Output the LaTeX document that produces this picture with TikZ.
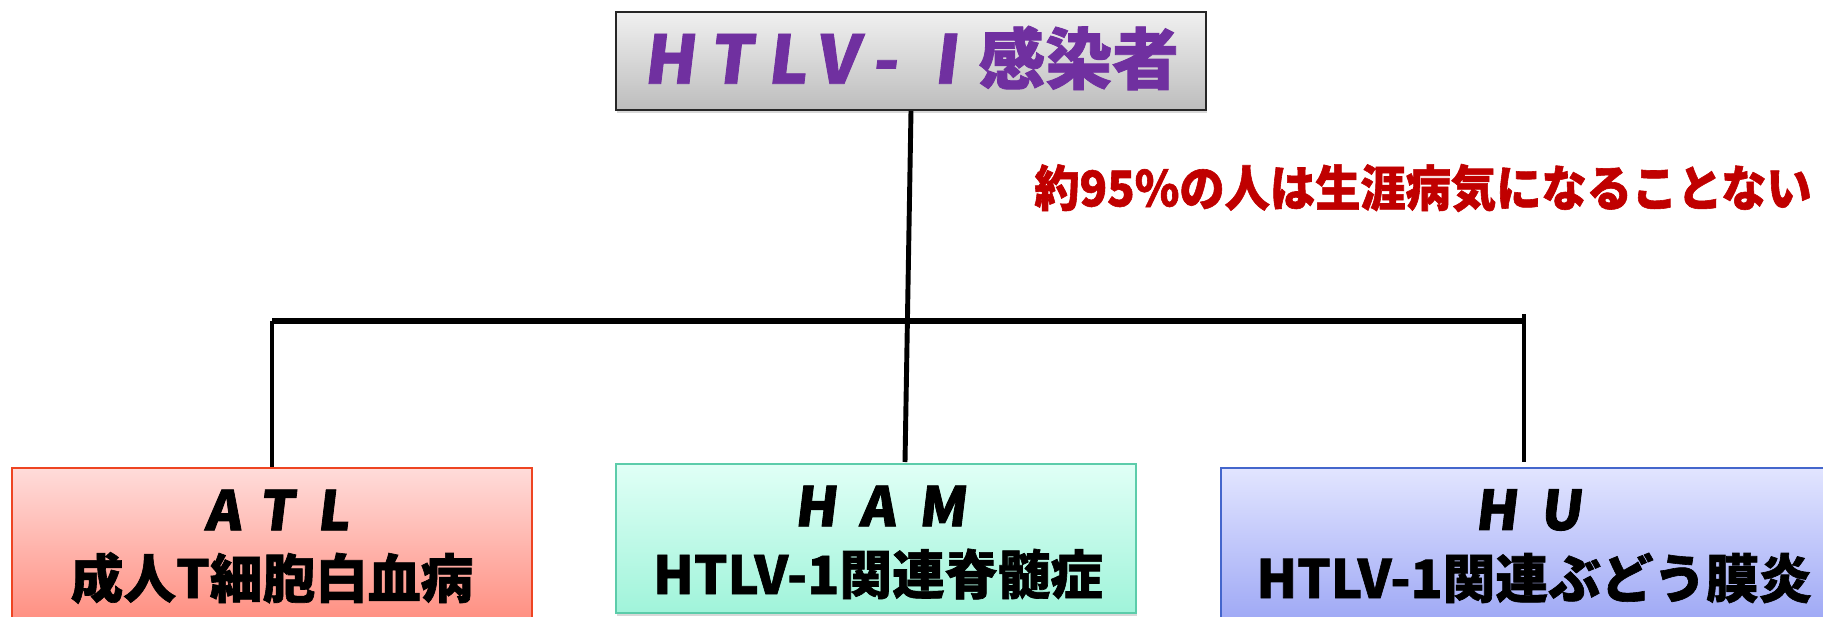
\documentclass[tikz,border=0pt]{standalone}
\usepackage{fontspec}
\usetikzlibrary{shadows}
\newfontfamily\jp{Noto Sans CJK JP}[FakeBold=1.2]
\newfontfamily\jpnote{Noto Sans CJK JP}[FakeStretch=0.92,FakeBold=1.2]
\newfontfamily\jpsp{Noto Sans CJK JP}[LetterSpace=22,FakeSlant=0.12,FakeBold=1.2]
\newfontfamily\jpwide{Noto Sans CJK JP}[LetterSpace=42,FakeSlant=0.12,FakeBold=1.5]
\definecolor{topA}{HTML}{F0F0F0}
\definecolor{topB}{HTML}{BDBDBD}
\definecolor{purp}{HTML}{7030A0}
\definecolor{redtxt}{HTML}{C00000}
\definecolor{atlA}{HTML}{FFDCDA}
\definecolor{atlB}{HTML}{FF8E80}
\definecolor{atlD}{HTML}{EE4422}
\definecolor{hamA}{HTML}{E0FFF6}
\definecolor{hamB}{HTML}{A0F4DA}
\definecolor{hamD}{HTML}{5CCCAA}
\definecolor{huA}{HTML}{E2E5FF}
\definecolor{huB}{HTML}{9EA8F5}
\definecolor{huD}{HTML}{4466CC}
\tikzset{
  wire/.style={line width=2.8pt, black},
  hwire/.style={line width=3.6pt, black},
  boxbase/.style={rectangle, inner sep=0pt, line width=0.9pt,
    drop shadow={shadow xshift=0.6pt, shadow yshift=-1.6pt, opacity=0.3}},
  toplbl/.style={font=\fontsize{38}{42}\selectfont, text=purp},
  headlbl/.style={font=\jpwide\bfseries\fontsize{31}{34}\selectfont},
  sublbl/.style={font=\jp\bfseries\fontsize{30}{34}\selectfont},
}
\begin{document}
\begin{tikzpicture}[x=0.02cm,y=-0.02cm]
\clip (0,0) rectangle (1823,616);
\fill[white] (0,0) rectangle (1823,616);
% top box
\node[boxbase, draw=black!85, top color=topA, bottom color=topB,
  minimum width=11.8cm, minimum height=1.96cm] (top) at (911,61) {};
\node[toplbl] (toptxt) at (911,58) {{\jpsp\bfseries HTLV-Ⅰ}{\jp\bfseries 感染者}};
% note
\node[font=\jpnote\bfseries\fontsize{28}{31}\selectfont, text=redtxt] (note) at (1423,188) {約95\%の人は生涯病気になることない};
% bottom boxes
\node[boxbase, draw=atlD, top color=atlA, bottom color=atlB,
  minimum width=10.4cm, minimum height=3.08cm] (atl) at (272,545) {};
\node[boxbase, draw=hamD, top color=hamA, bottom color=hamB,
  minimum width=10.4cm, minimum height=2.98cm] (ham) at (876,538.5) {};
\node[boxbase, draw=huD, top color=huA, bottom color=huB,
  minimum width=12.36cm, minimum height=3.08cm] (hu) at (1530,545) {};
% labels
\node[headlbl] (atl1) at (277,510) {ATL};
\node[sublbl] (atl2) at (272,578) {成人T細胞白血病};
\node[headlbl] (ham1) at (880,506) {HAM};
\node[sublbl] (ham2) at (878,574) {HTLV-1関連脊髄症};
\node[headlbl] (hu1) at (1528,510) {HU};
\node[sublbl] (hu2) at (1534,578) {HTLV-1関連ぶどう膜炎};
% connectors
\coordinate (jL) at (272,321);
\coordinate (jR) at (1524,321);
\coordinate (hamTop) at (905,462);
\coordinate (rTop) at (1524,314);
\coordinate (rBot) at (1524,462);
\draw[hwire] (jL) -- (jR);
\draw[wire] (top.south -| 911,0) -- (hamTop);
\draw[wire] (jL) -- (atl.north);
\draw[wire] (rTop) -- (rBot);
\end{tikzpicture}
\end{document}
